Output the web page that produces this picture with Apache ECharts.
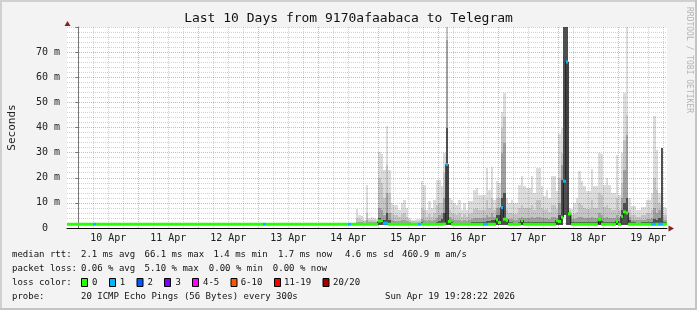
<!DOCTYPE html>
<html><head><meta charset="utf-8">
<script src="https://cdn.jsdelivr.net/npm/echarts@6/dist/echarts.min.js"></script>
<style>html,body{margin:0;padding:0;background:#f3f3f3}#c{width:697px;height:310px}</style>
</head><body><div id="c"></div>
<script>
// ---- time axis: hours since 10 Apr 00:00 ----
const startHour = -4.5272;   // Thu Apr 9 19:28:22
const endHour = 235.4728;    // Sun Apr 19 19:28:22
const dayLabels = ['10 Apr','11 Apr','12 Apr','13 Apr','14 Apr','15 Apr','16 Apr','17 Apr','18 Apr','19 Apr'];
const dayNoonHours = [12,36,60,84,108,132,156,180,204,228];
const midnightHours = [0,24,48,72,96,120,144,168,192,216];
const sixHourHours = [6,12,18,30,36,42,54,60,66,78,84,90,102,108,114,126,132,138,150,156,162,174,180,186,198,204,210,222,228,234];
const yTickValues = [0,10,20,30,40,50,60,70];

// ---- median rtt (ms), one value per hour, first bin starts at hour -5 ----
const medianStart = -5;
const median = [
  1.5,1.5,1.5,1.5,1.5,
  1.5,1.5,1.5,1.5,1.5,1.5,1.5,1.5,1.5,1.5,1.5,1.5,1.5,1.5,1.5,1.5,1.5,1.5,1.5,1.5,1.5,1.5,1.5,1.5,
  1.5,1.5,1.5,1.5,1.5,1.5,1.5,1.5,1.5,1.5,1.5,1.5,1.5,1.5,1.5,1.5,1.5,1.5,1.5,1.5,1.5,1.5,1.5,1.5,
  1.5,1.5,1.5,1.5,1.5,1.5,1.5,1.5,1.5,1.5,1.5,1.5,1.5,1.5,1.5,1.5,1.5,1.5,1.5,1.5,1.5,1.5,1.5,1.5,
  1.5,1.5,1.5,1.5,1.5,1.5,1.5,1.5,1.5,1.5,1.5,1.5,1.5,1.5,1.5,1.5,1.5,1.5,1.5,1.5,1.5,1.5,1.5,1.5,
  1.5,1.5,1.5,1.5,1.5,1.5,1.5,1.5,1.5,1.5,1.5,1.5,1.5,1.5,1.5,1.5,1.5,1.5,1.5,1.5,1.5,1.5,1.5,1.5,
  2.8,3.0,1.9,1.9,1.5,1.5,1.5,1.5,1.5,1.5,1.5,1.5,1.5,1.5,1.5,1.5,1.5,1.5,1.5,1.5,1.5,1.5,1.5,1.5,
  1.5,1.5,1.6,25.3,2.6,1.5,1.5,1.5,1.5,1.5,1.5,1.5,1.5,1.5,1.5,1.5,1.5,1.5,1.5,1.5,1.5,1.5,1.5,3.3,
  2.2,8.2,3.5,3.3,1.5,1.5,1.5,1.5,1.5,3.0,1.5,1.5,1.5,1.5,1.5,1.5,1.5,1.5,1.5,1.5,1.5,1.5,1.5,3.0,
  2.6,4.3,18.6,66.1,5.6,1.5,1.5,1.5,1.5,1.5,1.5,1.5,1.5,1.5,1.5,1.5,3.4,1.5,1.5,1.5,1.5,1.5,1.5,2.6,
  1.5,4.7,6.4,6.0,1.5,1.5,1.5,1.5,1.5,1.5,1.5,1.5,1.5,1.5,1.5,1.5,1.5,1.5,1.5,1.7
];
// hours with lost packets (count of 20)
const lossHours  = [6,74,108,122,123,136,147,162,163,169,194,195,229,230,232,233];
const lossCounts = [1,1,1,1,1,1,1,1,1,1,1,1,1,1,1,1];

// ---- smoke (ping spread), one bin per hour starting at hour 110 ----
const smokeStart = 110;
const smokeMin = [
  1.3,1.3,1.3,1.3,1.3,1.3,1.3,1.3,1.3,1.3,1.3,1.3,1.3,1.3,1.3,1.3,1.3,1.3,1.3,1.3,1.3,1.3,1.3,1.3,1.3,1.3,
  1.3,1.3,1.3,1.3,1.3,1.3,1.3,1.3,1.3,1.3,1.3,1.3,1.3,1.3,1.3,1.3,1.3,1.3,1.3,1.3,1.3,1.3,1.3,1.3,1.3,1.3,
  1.3,1.3,1.3,1.3,1.3,1.3,1.3,1.3,1.3,1.3,1.3,1.3,1.3,1.3,1.3,1.3,1.3,1.3,1.3,1.3,1.3,1.3,1.3,1.3,1.3,1.3,
  1.3,1.3,1.3,1.3,1.3,1.3,5.0,1.3,1.3,1.3,1.3,1.3,1.3,1.3,1.3,1.3,1.3,1.3,1.3,1.3,1.3,1.3,1.3,1.3,1.3,1.3,
  1.3,1.3,1.3,1.3,1.3,1.3,1.3,1.3,1.3,1.3,1.3,1.3,1.3,1.3,1.3,1.3,1.3,1.3,1.3,1.3,1.3,1.3
];
const smokeP1 = [
  1.6,1.8,1.8,1.8,1.7,2.0,1.8,1.8,1.8,1.8, 4.0,3.5,3.0,6.0,3.0,2.0,2.0,2.0,1.9,2.0, 2.0,1.9,1.8,1.7,1.7,1.7,
  1.7,2.2,2.1,1.9,2.0,1.9,2.1,2.3,2.6,3.5, 6.0,40.0,2.8,2.2,2.1,2.0,2.1,2.0,2.1,1.9, 2.1,2.2,2.3,2.4,2.3,2.3,
  2.4,2.8,2.6,3.0,3.0,5.0,5.0,12.0,14.0,2.5, 2.2,2.2,2.1,2.1,2.3,2.4,2.3,2.3,2.3,2.4, 2.3,2.5,2.5,2.3,2.2,2.2,
  2.2,2.4,2.4,2.5,5.0,19.0,80,80,5.5,2.5, 2.2,2.3,2.5,2.4,2.3,2.3,2.3,2.5,2.3,2.3, 3.0,2.8,2.4,2.4,2.3,2.3,
  2.3,2.6,2.4,7.0,10.0,12.0,3.0,2.2,2.2,2.1, 2.1,2.2,2.2,2.3,2.3,2.5,3.5,3.0,4.0,32.0, 2.2,2.2
];
const smokeP2 = [
  1.7,2.5,2.5,2.2,2.1,3.0,2.2,2.3,2.2,2.2, 8.0,7.0,5.0,14.0,6.0,3.0,2.8,2.8,2.6,3.0, 3.0,2.6,2.2,2.1,2.1,2.1,
  2.1,3.5,3.2,2.6,3.0,2.7,3.2,4.0,5.0,6.0, 12.0,75.0,4.5,3.5,3.2,3.0,3.3,2.8,3.2,2.7, 3.2,3.4,3.8,4.0,3.8,3.8,
  4.0,5.0,4.5,6.0,4.5,8.0,8.0,30.0,34.0,4.0, 3.5,3.5,3.2,3.2,4.0,4.2,4.0,4.0,4.0,4.2, 3.8,4.5,4.5,4.0,3.8,3.8,
  3.5,4.2,4.2,4.0,10.0,25.0,80,80,6.0,3.5, 3.5,3.8,4.5,4.2,4.0,3.8,3.8,4.5,4.0,4.0, 6.0,5.0,4.0,4.2,4.0,3.8,
  3.8,5.0,4.0,12.0,23.0,37.0,4.5,3.2,3.2,3.0, 3.0,3.2,3.2,3.5,3.5,4.0,8.0,6.0,7.0,32.0, 3.2,3.2
];
const smokeP3 = [
  1.8,4.0,3.5,3.0,2.6,6.0,3.0,3.2,3.0,2.8, 20.0,18.0,12.0,25.0,14.0,6.0,5.0,5.0,4.5,5.5, 6.0,4.5,3.0,2.6,2.6,2.7,
  2.7,8.0,7.0,4.5,5.5,4.5,6.0,9.0,10.0,10.0, 22.0,80.0,7.0,6.0,5.5,5.0,6.0,4.5,5.5,4.3, 5.5,6.0,7.5,8.0,7.0,7.0,
  7.0,11.0,8.0,12.0,7.0,12.0,12.0,40.0,44.0,7.0, 6.0,6.0,5.5,5.5,8.0,9.0,8.0,8.0,8.0,9.0, 7.0,11.0,11.0,8.0,7.0,7.5,
  6.5,9.0,9.0,7.5,20.0,30.0,80,80,7.0,5.0, 5.5,6.5,10.0,9.0,8.0,7.5,7.5,11.0,8.0,8.0, 14.0,13.0,8.5,9.0,8.0,7.0,
  7.0,12.0,7.0,18.0,35.0,45.0,7.0,5.0,5.0,4.5, 4.5,5.0,5.0,6.0,6.0,7.0,20.0,15.0,10.0,32.0, 5.0,5.0
];
const smokeMax = [
  2.0,7.6,5.3,4.6,3.3,17.0,4.0,4.5,4.0,3.5, 30.4,29.3,23.0,40.5,23.0,10.0,9.3,9.3,7.3,10.0, 11.3,8.0,4.0,3.3,3.3,3.5,
  3.5,18.6,17.3,7.3,10.6,8.0,11.3,19.3,19.3,16.6, 30.0,80.0,12.0,11.3,10.0,9.3,11.3,7.3,10.0,7.0, 10.6,10.6,15.3,16.0,13.3,13.3,
  13.0,23.7,15.0,24.3,11.3,18.6,18.0,46.0,53.8,12.0, 10.0,11.3,10.0,10.0,17.3,20.6,16.6,16.0,16.0,20.6, 14.0,24.0,24.0,16.6,12.6,15.3,
  12.0,20.6,20.6,14.6,37.5,40.0,80,80,8.0,7.7, 10.0,12.0,22.6,18.6,16.6,14.6,14.6,23.3,16.6,16.6, 30.0,29.4,17.3,20.0,17.0,14.0,
  14.0,29.0,13.3,30.0,53.8,80.0,12.0,8.9,8.9,7.3, 7.3,8.4,8.4,11.3,11.3,14.0,44.6,31.0,14.0,32.0, 8.4,8.0
];

// ---- legend / stats text ----
const statsRtt  = ['median rtt:', '2.1 ms avg', '66.1 ms max', '1.4 ms min', '1.7 ms now', '4.6 ms sd', '460.9 m am/s'];
const statsLoss = ['packet loss:', '0.06 % avg', '5.10 % max', '0.00 % min', '0.00 % now'];
const lossLabels = ['0','1','2','3','4-5','6-10','11-19','20/20'];
const lossColors = ['#26ff00','#00b8ff','#0059ff','#7e00ff','#ff00ff','#ff5500','#ff0000','#a10000'];
const probeText = ['probe:', '20 ICMP Echo Pings (56 Bytes) every 300s', 'Sun Apr 19 19:28:22 2026'];
const titleText = 'Last 10 Days from 9170afaabaca to Telegram';

const mono = '"DejaVu Sans Mono", monospace';
const smokeColors = ['#505050', '#a0a0a0', '#c4c4c4', '#dcdcdc'];
const majorGrid = 'rgba(255,0,0,0.36)';
const minorGrid = 'rgba(0,0,0,0.18)';

function lossBucket(n) {
  if (n <= 0) return 0; if (n === 1) return 1; if (n === 2) return 2; if (n === 3) return 3;
  if (n <= 5) return 4; if (n <= 10) return 5; if (n <= 19) return 6; return 7;
}

const smokeData = smokeMax.map((m, i) => [smokeStart + i, smokeMin[i], smokeP1[i], smokeP2[i], smokeP3[i], m]);
const medianData = median.map((v, i) => {
  const h = medianStart + i;
  const li = lossHours.indexOf(h);
  return [h, v, li >= 0 ? lossCounts[li] : 0];
});
const medianStep = median.map((v, i) => [medianStart + i + 0.5, v]);
const vGridData = midnightHours.map(h => [h, 1]).concat(sixHourHours.map(h => [h, 0]));
// horizontal split line colours: major at 0..70, none-red at the top edge
const hGridColors = yTickValues.map(() => majorGrid).concat([minorGrid]);

const chart = echarts.init(document.getElementById('c'), null, {renderer: 'canvas', width: 697, height: 310});

const option = {
  animation: false,
  backgroundColor: '#f3f3f3',
  grid: {left: 67, right: 30, top: 27, bottom: 82, show: true, backgroundColor: '#ffffff', borderWidth: 0,
    containLabel: false, outerBoundsMode: 'none'},
  xAxis: {
    type: 'value', min: startHour, max: endHour, z: 3.5,
    axisLine: {show: true, onZero: false, lineStyle: {color: '#000', width: 1}},
    axisTick: {show: false},
    axisLabel: {customValues: dayNoonHours, margin: 5, color: '#222', fontFamily: mono, fontSize: 10,
      formatter: v => dayLabels[dayNoonHours.indexOf(v)]},
    splitLine: {show: false}
  },
  yAxis: {
    type: 'value', min: 0, max: 80, interval: 10, z: 3,
    name: 'Seconds', nameLocation: 'middle', nameGap: 49, nameRotate: 90,
    nameTextStyle: {fontFamily: mono, fontSize: 11, color: '#222'},
    axisLine: {show: true, lineStyle: {color: '#777', width: 1}},
    axisTick: {show: true, length: 3, lineStyle: {color: '#777'}},
    axisLabel: {margin: 7, color: '#222', fontFamily: mono, fontSize: 10,
      formatter: v => v === 0 ? '0  ' : (yTickValues.indexOf(v) >= 0 ? v + ' m' : '')},
    splitLine: {show: true, lineStyle: {color: hGridColors, width: 1, type: [1, 1]}},
    minorTick: {show: false, splitNumber: 5},
    minorSplitLine: {show: true, lineStyle: {color: minorGrid, width: 1, type: [1, 1]}}
  },
  series: [{
    type: 'custom', name: 'smoke', z: 1, clip: true, silent: true,
    encode: {x: 0, y: 5},
    data: smokeData,
    renderItem: function (params, api) {
      const h = api.value(0);
      const xa = Math.round(api.coord([h, 0])[0]);
      const xb = Math.round(api.coord([h + 1, 0])[0]);
      const lv = [api.value(1), api.value(2), api.value(3), api.value(4), api.value(5)];
      const children = [];
      for (let k = 0; k < 4; k++) {
        const ya = Math.round(api.coord([h, lv[k]])[1]);
        const yb = Math.round(api.coord([h, lv[k + 1]])[1]);
        if (ya > yb) children.push({type: 'rect', shape: {x: xa, y: yb, width: xb - xa, height: ya - yb},
          style: {fill: smokeColors[k]}});
      }
      return {type: 'group', children: children};
    }
  }, {
    type: 'custom', name: 'time grid', z: 3, clip: true, silent: true,
    encode: {x: 0},
    data: vGridData,
    renderItem: function (params, api) {
      const h = api.value(0);
      const x = Math.round(api.coord([h, 0])[0]) + 0.5;
      const ya = api.coord([h, 0])[1], yb = api.coord([h, 80])[1];
      return {type: 'line', shape: {x1: x, y1: ya, x2: x, y2: yb},
        style: {stroke: api.value(1) ? majorGrid : minorGrid, lineWidth: 1, lineDash: [1, 1]}};
    }
  }, {
    type: 'line', name: 'median', z: 4, step: 'middle', showSymbol: false, clip: true, silent: true,
    data: medianStep, lineStyle: {color: '#1a1a1a', width: 1}
  }, {
    type: 'custom', name: 'median loss', z: 5, clip: true, silent: true,
    encode: {x: 0, y: 1},
    data: medianData,
    renderItem: function (params, api) {
      const h = api.value(0), v = api.value(1);
      const p0 = api.coord([h, v]), p1 = api.coord([h + 1, v]);
      return {type: 'line', shape: {x1: Math.round(p0[0]), y1: p0[1], x2: Math.round(p1[0]), y2: p1[1]},
        style: {stroke: lossColors[lossBucket(api.value(2))], lineWidth: 3, lineCap: 'butt'}};
    }
  }]
};
chart.setOption(option);

// ---- decorations: frame, arrows, title, legend ----
function text(x, y, s, extra) {
  return {type: 'text', x: x, y: y, silent: true,
    style: Object.assign({text: s, font: '9px ' + mono, fill: '#111', textAlign: 'left', textVerticalAlign: 'middle',
      align: 'left', verticalAlign: 'middle'}, extra || {})};
}
const x0 = chart.convertToPixel({xAxisIndex: 0}, startHour);
const x1 = chart.convertToPixel({xAxisIndex: 0}, endHour);
const yb = chart.convertToPixel({yAxisIndex: 0}, 0);
const yt = chart.convertToPixel({yAxisIndex: 0}, 80);
const g = [];
g.push({type: 'rect', shape: {x: 0, y: 0, width: 697, height: 2}, style: {fill: '#d0d0d0'}, silent: true});
g.push({type: 'rect', shape: {x: 0, y: 0, width: 2, height: 310}, style: {fill: '#d0d0d0'}, silent: true});
g.push({type: 'rect', shape: {x: 0, y: 308, width: 697, height: 2}, style: {fill: '#c4c4c4'}, silent: true});
g.push({type: 'rect', shape: {x: 695, y: 0, width: 2, height: 310}, style: {fill: '#c4c4c4'}, silent: true});
g.push({type: 'polygon', silent: true, z: 10, shape: {points: [[Math.round(x0) + 0.5, yt - 6], [Math.round(x0) - 2.5, yt - 1], [Math.round(x0) + 3.5, yt - 1]]}, style: {fill: '#8a1f1f'}});
g.push({type: 'polygon', silent: true, z: 10, shape: {points: [[x1 + 7, Math.round(yb) + 0.5], [x1 + 1.5, Math.round(yb) - 2.5], [x1 + 1.5, Math.round(yb) + 3.5]]}, style: {fill: '#8a1f1f'}});
g.push(text(348.5, 19, titleText, {font: '13px ' + mono, textAlign: 'center', align: 'center', fill: '#111'}));
g.push({type: 'text', x: 689, y: 60, rotation: -Math.PI / 2, silent: true,
  style: {text: 'RRDTOOL / TOBI OETIKER', font: '8px ' + mono, fill: '#b4b4b4', textAlign: 'center', align: 'center',
    textVerticalAlign: 'middle', verticalAlign: 'middle'}});
const rttX = [12, 81, 144.5, 213.5, 278, 345, 402];
statsRtt.forEach((s, i) => g.push(text(rttX[i], 255, s)));
const lossX = [12, 81, 144.5, 208.8, 272.8];
statsLoss.forEach((s, i) => g.push(text(lossX[i], 268.5, s)));
g.push(text(12, 282.5, 'loss color:'));
const boxX = [81, 109, 136.5, 164, 192, 230.5, 274, 322.5];
const boxTextX = [92, 119.7, 147.4, 175.4, 203, 240.7, 284, 333];
lossLabels.forEach((s, i) => {
  g.push({type: 'rect', silent: true, shape: {x: boxX[i] + 0.5, y: 278.5, width: 6, height: 8},
    style: {fill: lossColors[i], stroke: '#000', lineWidth: 1}});
  g.push(text(boxTextX[i], 282.5, s));
});
g.push(text(12, 297, probeText[0]));
g.push(text(81, 297, probeText[1]));
g.push(text(385, 297, probeText[2]));
chart.setOption({graphic: {elements: g}});
</script></body></html>
